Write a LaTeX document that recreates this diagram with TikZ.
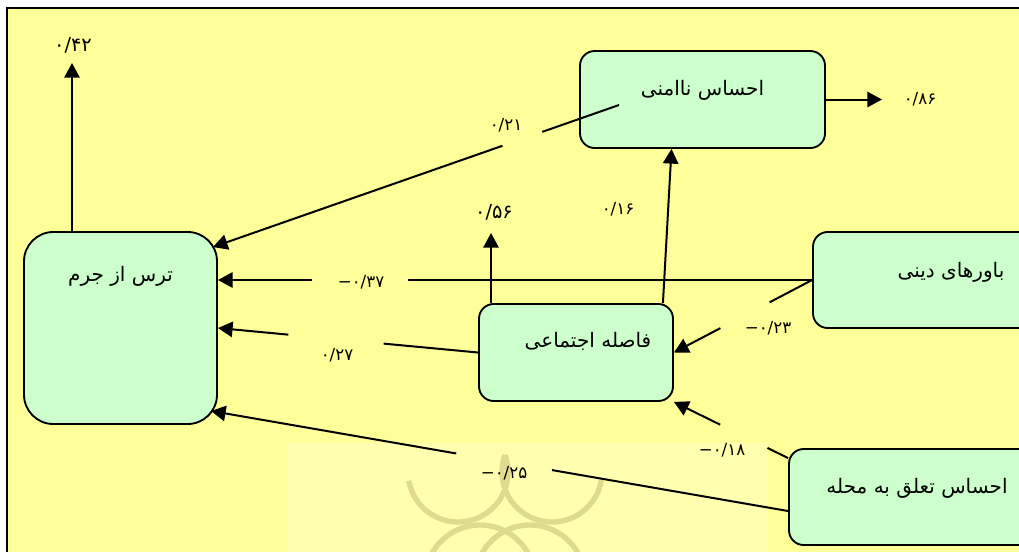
\documentclass[tikz,border=0pt]{standalone}
\usepackage{fontspec}
\usetikzlibrary{arrows.meta,calc}
\TeXXeTstate=1
\newfontfamily\arabicfont[Script=Arabic]{DejaVu Sans}
\newfontfamily\numfont{DejaVu Sans}
\definecolor{bgyellow}{HTML}{FFFF99}
\definecolor{boxgreen}{HTML}{CCFFCC}
\definecolor{wmlight}{HTML}{FFFFAF}
\definecolor{wmarch}{HTML}{DEDB8E}

\begin{document}
\begin{tikzpicture}[x=0.75pt, y=-0.75pt,
    box/.style={draw, line width=1.4pt, fill=boxgreen, rounded corners=11pt, inner sep=0pt,
      font=\arabicfont\fontsize{15}{17}\selectfont, text height=10pt},
    arr/.style={line width=1.5pt, -{Triangle[length=11pt, width=11.5pt]}},
    coef/.style={font=\numfont\fontsize{12.5}{14}\selectfont, inner sep=0pt},
    bigcoef/.style={font=\numfont\fontsize{14.5}{16}\selectfont, inner sep=0pt}]
  \clip (0,0) rectangle (1019,551);
  \fill[white] (0,0) rectangle (1019,551);
  \draw[line width=1.5pt, fill=bgyellow] (7,8) rectangle (1040,570);

  % watermark
  \fill[wmlight] (288,443) rectangle (768,560);
  \begin{scope}[wmarch, line width=4pt]
    \draw ($(458,472)+(170:50)$) arc[start angle=170, end angle=-20, radius=50];
    \draw ($(552,472)+(-160:50)$) arc[start angle=-160, end angle=-351, radius=50];
    \draw ($(480,580)+(-160:55)$) arc[start angle=-160, end angle=-20, radius=55];
    \draw ($(530,580)+(-160:55)$) arc[start angle=-160, end angle=-20, radius=55];
  \end{scope}

  \node[box, rounded corners=22pt, minimum width=144.75pt, minimum height=144pt, text depth=80.5pt]
    (fear) at (120.5,328) {\beginR ترس از جرم\endR};
  \node[box, minimum width=183.75pt, minimum height=72.75pt, text depth=16.75pt]
    (insec) at (702.5,99.5) {\beginR احساس ناامنی\endR};
  \node[box, minimum width=145.5pt, minimum height=72.75pt, text depth=18.25pt]
    (dist) at (576,352.5) {\hspace{18pt}\beginR فاصله اجتماعی\endR};
  \node[box, minimum width=207pt, minimum height=72pt, text depth=14.5pt]
    (relig) at (951,280) {\beginR باورهای دینی\endR};
  \node[box, minimum width=192pt, minimum height=72pt, text depth=16pt]
    (attach) at (917,497) {\beginR احساس تعلق به محله\endR};

  \node[bigcoef] (l42) at (73,45) {۰/۴۲};
  \node[coef] (l86) at (920,99) {۰/۸۶};
  \node[bigcoef] (l56) at (494,212) {۰/۵۶};
  \node[coef] (l16) at (618,209) {۰/۱۶};
  \node[coef] (l21) at (506,125) {۰/۲۱};
  \node[coef] (l37) at (361,282) {−۰/۳۷};
  \node[coef] (l27) at (337,355) {۰/۲۷};
  \node[coef] (l23) at (768,328) {−۰/۲۳};
  \node[coef] (l18) at (722,450) {−۰/۱۸};
  \node[coef] (l25) at (504,473) {−۰/۲۵};

  \coordinate (e42) at (72,63);
  \coordinate (e56) at (491,233);
  \coordinate (e86) at (882,99.5);
  \draw[arr] (fear.north -| e42) -- (e42);
  \draw[arr] (insec.east) -- (e86);
  \draw[arr] (dist.north -| e56) -- (e56);
  \draw[arr] ($(dist.north east)+(-11,0)$) -- ($(insec.south)+(-31,0)$);

  % paths broken where the coefficients sit
  \coordinate (s21) at (619,105);
  \coordinate (t21) at ($(fear.north east)+(-5,16)$);
  \draw[arr] (s21) -- ($(s21)!.189!(t21)$) ($(s21)!.287!(t21)$) -- (t21);
  \draw[arr] (relig.west) -- ($(relig.west)!.68!(fear.east |- relig.west)$)
    ($(relig.west)!.841!(fear.east |- relig.west)$) -- (fear.east |- relig.west);
  \draw[arr] (relig.west) -- ($(relig.west)!.307!(dist.east)$)
    ($(relig.west)!.664!(dist.east)$) -- (dist.east);
  \draw[arr] (dist.west) -- ($(dist.west)!.363!(fear.east)$)
    ($(dist.west)!.729!(fear.east)$) -- (fear.east);
  \coordinate (s18) at ($(attach.north west)+(0,10)$);
  \draw[arr] (s18) -- ($(s18)!.181!(dist.south east)$)
    ($(s18)!.595!(dist.south east)$) -- (dist.south east);
  \coordinate (s25) at ($(attach.west)+(0,14)$);
  \coordinate (t25) at ($(fear.south east)+(-7,-14)$);
  \draw[arr] (s25) -- ($(s25)!.409!(t25)$) ($(s25)!.575!(t25)$) -- (t25);
\end{tikzpicture}
\end{document}
